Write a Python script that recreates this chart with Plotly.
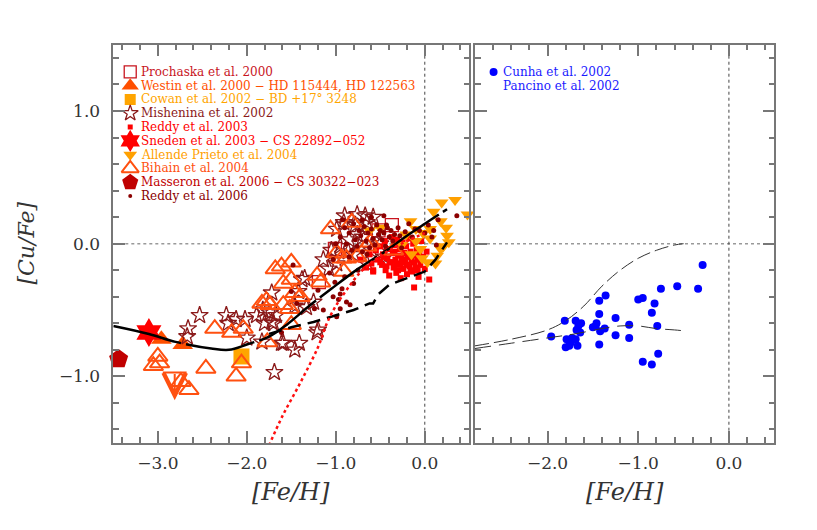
import plotly.graph_objects as go

FONT = "DejaVu Serif"

# --- Left panel: field and halo stars ---

PROCHASKA_X = [-1.01, -1.19, -0.37, -0.52]
PROCHASKA_Y = [-0.04, -0.29, 0.14, 0.10]

WESTIN_X = [-2.96, -2.72]
WESTIN_Y = [-0.72, -0.76]

COWAN_X = [-2.06]
COWAN_Y = [-0.85]

MISHENINA_X = [
    -2.53, -2.66, -2.67, -2.23, -2.21, -2.12, -2.02, -1.89, -2.00, -1.83,
    -1.80, -1.70, -1.74, -1.72, -1.67, -1.61, -1.46, -1.41, -1.21, -1.69,
    -1.38, -1.33, -1.25, -1.14, -0.99, -1.08, -1.46, -1.35, -1.42, -1.20,
    -1.59, -1.72, -1.82, -0.90, -0.76, -0.67, -0.58, -0.86, -0.76, -0.65,
    -0.91, -0.78, -0.65, -0.99, -0.85, -0.70, -0.55, -0.95, -0.80, -1.05,
    -0.60, -0.50, -0.45,
]
MISHENINA_Y = [
    -0.54, -0.64, -0.70, -0.54, -0.60, -0.57, -0.57, -0.54, -0.71, -0.74,
    -0.60, -0.60, -0.52, -0.37, -0.54, -0.75, -0.80, -0.75, -0.67, -0.97,
    -0.27, -0.48, -0.44, -0.12, -0.15, -0.19, -0.47, -0.26, -0.36, -0.65,
    -0.75, -0.59, -0.50, 0.21, 0.22, 0.21, 0.20, -0.06, 0.07, -0.15,
    0.16, 0.14, 0.16, 0.11, 0.03, 0.05, 0.08, -0.02, -0.08, -0.05,
    -0.05, 0.00, -0.10,
]

REDDY03_X = [
    -0.72, -0.66, -0.62, -0.60, -0.58, -0.55, -0.53, -0.50, -0.48, -0.47,
    -0.45, -0.44, -0.42, -0.41, -0.40, -0.38, -0.37, -0.36, -0.35, -0.34,
    -0.33, -0.32, -0.31, -0.30, -0.29, -0.28, -0.27, -0.26, -0.25, -0.24,
    -0.23, -0.22, -0.21, -0.20, -0.19, -0.18, -0.17, -0.16, -0.15, -0.14,
    -0.13, -0.12, -0.11, -0.10, -0.09, -0.08, -0.07, -0.06, -0.05, -0.04,
    -0.02, 0.00, 0.02, 0.05, -0.39, -0.58, -0.46, -0.30, -0.24, -0.34,
    -0.16, -0.50, -0.27, -0.08, -0.20, -0.43, -0.12, -0.32,
]
REDDY03_Y = [
    -0.12, -0.18, -0.08, -0.15, -0.21, -0.05, -0.12, -0.02, -0.16, -0.08,
    0.02, -0.20, -0.11, -0.04, -0.24, -0.14, 0.05, -0.07, -0.18, -0.01,
    -0.12, -0.22, 0.03, -0.09, -0.16, -0.04, -0.26, -0.11, 0.01, -0.19,
    -0.07, -0.14, -0.02, -0.23, -0.10, 0.04, -0.17, -0.06, -0.13, -0.21,
    0.00, -0.33, -0.09, -0.18, -0.04, -0.12, -0.25, -0.07, -0.16, 0.02,
    -0.10, -0.19, -0.06, -0.27, -0.14, -0.20, -0.10, -0.20, -0.12, -0.06,
    -0.20, -0.14, -0.15, -0.20, -0.16, -0.17, -0.14, -0.15,
]

SNEDEN_X = [-3.10]
SNEDEN_Y = [-0.67]

ALLENDE_X = [
    0.19, 0.34, 0.48, -0.16, -0.10, 0.18, 0.24, 0.25, 0.27, 0.06,
    -0.05, -0.03, 0.03, 0.12, 0.14, 0.18, -0.10, -0.21, -0.26, 0.06,
    -0.50, -0.62, 0.10, -0.02, 0.21, -0.15,
]
ALLENDE_Y = [
    0.31, 0.33, 0.22, 0.17, 0.11, 0.17, 0.12, 0.06, 0.01, 0.04,
    -0.04, -0.11, -0.14, -0.15, -0.09, -0.04, 0.02, 0.07, -0.01, 0.11,
    0.12, 0.10, 0.24, 0.08, -0.02, -0.08,
]

BIHAIN_X = [
    -3.00, -3.05, -2.98, -2.74, -2.65, -2.46, -2.36, -2.17, -2.04, -2.06,
    -2.12, -1.77, -1.83, -1.78, -1.74, -1.68, -1.50, -1.59, -1.50, -1.46,
    -1.59, -1.50, -1.61, -1.40, -1.52, -1.21, -1.17, -1.06, -0.82, -0.99,
    -0.93, -0.91, -0.76, -0.65, -0.61, -0.35, -0.88,
]
BIHAIN_Y = [
    -0.85, -0.92, -0.90, -1.04, -1.10, -0.94, -0.64, -0.67, -0.64, -0.90,
    -1.00, -0.74, -0.45, -0.43, -0.46, -0.19, -0.14, -0.30, -0.27, -0.37,
    -0.46, -0.61, -0.17, -0.40, -0.49, -0.24, -0.29, 0.11, 0.16, -0.07,
    -0.11, -0.21, -0.10, -0.02, 0.01, -0.05, -0.11,
]
# upper limit
BIHAIN_UL_X = [-2.81]
BIHAIN_UL_Y = [-0.97]

MASSERON_X = [-3.44]
MASSERON_Y = [-0.87]

REDDY06_X = [
    -1.61, -1.48, -1.50, -1.44, -1.24, -1.14, -0.99, -0.95, -0.93, -0.88,
    -0.84, -1.07, -1.01, -0.97, -1.03, -1.03, -0.46, 0.36, 0.08, 0.13,
    -0.11, -0.26, -0.43, -0.95, -1.20, -0.90, -0.80, -0.75,
    -0.95, -0.90, -0.88, -0.85, -0.82, -0.80, -0.78, -0.76, -0.74, -0.72,
    -0.70, -0.68, -0.66, -0.64, -0.62, -0.60, -0.58, -0.56, -0.54, -0.52,
    -0.50, -0.48, -0.46, -0.44, -0.42, -0.40, -0.38, -0.36, -0.34, -0.30,
    -0.28, -0.22, -0.18, -0.14, -0.06, 0.00, 0.04, 0.10, 0.15, -0.92,
    -0.70, -0.60, -0.85, -0.65, -1.00,
]
REDDY06_Y = [
    -0.67, -0.16, -0.36, -0.45, -0.49, -0.50, -0.55, -0.38, -0.34, -0.44,
    -0.46, -0.22, -0.29, -0.42, -0.40, -0.12, 0.21, 0.21, 0.05, -0.01,
    0.11, -0.03, 0.14, -0.49, -0.35, -0.25, -0.30, -0.20,
    0.05, 0.12, 0.00, 0.08, -0.05, 0.15, 0.03, -0.02, 0.10, 0.06,
    -0.06, 0.13, 0.02, 0.08, -0.03, 0.11, 0.04, -0.01, 0.14, 0.07,
    0.10, 0.03, 0.08, -0.02, 0.12, 0.05, 0.10, 0.02, 0.07, 0.12,
    0.06, 0.09, 0.15, 0.05, 0.10, 0.08, 0.14, 0.10, 0.18, 0.18,
    0.18, 0.20, -0.10, -0.08, 0.00,
]

# model curves, left panel
FIT_X = [-3.5, -3.1, -2.8, -2.4, -2.2, -2.0, -1.75, -1.55, -1.3, -1.05, -0.75, -0.45, -0.2, 0.0, 0.25]
FIT_Y = [-0.62, -0.68, -0.74, -0.79, -0.80, -0.76, -0.70, -0.61, -0.47, -0.34, -0.19, -0.06, 0.06, 0.15, 0.26]

DASH_X = [-1.75, -1.5, -1.25, -1.0, -0.8, -0.62, -0.58, -0.52, -0.4, -0.2, 0.0, 0.12, 0.25]
DASH_Y = [-0.68, -0.63, -0.59, -0.54, -0.50, -0.45, -0.45, -0.38, -0.31, -0.26, -0.21, -0.12, 0.01]

DOT_X = [-1.75, -1.6, -1.4, -1.2, -1.1, -1.0, -0.88, -0.73, -0.56, -0.4, -0.2, 0.0]
DOT_Y = [-1.52, -1.30, -1.05, -0.78, -0.60, -0.47, -0.35, -0.22, -0.12, -0.05, 0.02, 0.08]

# --- Right panel: Omega Centauri ---

CUNHA_X = [
    -1.96, -1.81, -1.80, -1.79, -1.75, -1.73, -1.69, -1.69, -1.67, -1.68,
    -1.66, -1.63, -1.64, -1.76, -1.47, -1.46, -1.43, -1.43, -1.42, -1.43,
    -1.36, -1.37, -1.25, -1.25, -1.10, -1.10, -1.00, -0.95, -0.82, -0.85,
    -0.79, -0.75, -0.57, -0.34, -0.29, -0.95, -0.85, -0.78, -1.50,
]
CUNHA_Y = [
    -0.70, -0.58, -0.78, -0.72, -0.75, -0.71, -0.72, -0.58, -0.77, -0.65,
    -0.62, -0.60, -0.67, -0.77, -0.62, -0.60, -0.43, -0.53, -0.66, -0.76,
    -0.39, -0.64, -0.56, -0.69, -0.61, -0.71, -0.42, -0.41, -0.45, -0.52,
    -0.62, -0.34, -0.32, -0.34, -0.16, -0.89, -0.91, -0.83, -0.63,
]

OMEGA_A_X = [-2.8, -2.4, -2.0, -1.8, -1.6, -1.4, -1.2, -1.0, -0.8, -0.6, -0.5]
OMEGA_A_Y = [-0.77, -0.72, -0.65, -0.58, -0.47, -0.32, -0.20, -0.11, -0.05, -0.01, 0.0]

OMEGA_B_X = [-2.8, -2.4, -2.0, -1.7, -1.4, -1.2, -1.0, -0.8, -0.6, -0.45]
OMEGA_B_Y = [-0.79, -0.75, -0.71, -0.68, -0.64, -0.62, -0.62, -0.64, -0.65, -0.66]

# label, x, y, symbol, size, colour, legend key size
SERIES = [
    ("Prochaska et al. 2000", PROCHASKA_X, PROCHASKA_Y, "square-open", 13, "#C8141E", 12),
    ("Westin et al. 2000 \u2212 HD 115444, HD 122563", WESTIN_X, WESTIN_Y, "triangle-up", 18, "#FF4F00", 15),
    ("Cowan et al. 2002 \u2212 BD +17\u00b0 3248", COWAN_X, COWAN_Y, "square", 16, "#FFA500", 11),
    ("Mishenina et al. 2002", MISHENINA_X, MISHENINA_Y, "star-open", 13, "#8B1A1A", 12),
    ("Reddy et al. 2003", REDDY03_X, REDDY03_Y, "square", 6, "#FF0000", 5),
    ("Sneden et al. 2003 \u2212 CS 22892\u2212052", SNEDEN_X, SNEDEN_Y, "hexagram", 22, "#FF0000", 17),
    ("Allende Prieto et al. 2004", ALLENDE_X, ALLENDE_Y, "triangle-down", 12, "#FFA000", 12),
    ("Bihain et al. 2004", BIHAIN_X, BIHAIN_Y, "triangle-up-open", 17, "#FF5010", 15),
    ("Masseron et al. 2006 \u2212 CS 30322\u2212023", MASSERON_X, MASSERON_Y, "pentagon", 20, "#C00000", 17),
    ("Reddy et al. 2006", REDDY06_X, REDDY06_Y, "circle", 5, "#8B0000", 4),
]

# the page body adds an 8px offset, domains compensate for it
LEFT_DOMAIN = [0.1289, 0.5646]
RIGHT_DOMAIN = [0.5716, 0.9379]
Y_DOMAIN = [0.1798, 0.9308]
LEGEND_ROW = 0.104


def marker_style(symbol: str, size: float, color: str) -> dict:
    if symbol.endswith("-open"):
        lw = 2 if symbol.startswith("triangle") else 1.3
        return dict(symbol=symbol, size=size, color=color, line=dict(color=color, width=lw))
    return dict(symbol=symbol, size=size, color=color, line=dict(width=0))


def build_figure() -> go.Figure:
    fig = go.Figure()

    for label, xs, ys, symbol, size, color, _ in SERIES:
        fig.add_trace(
            go.Scatter(
                x=xs, y=ys, mode="markers", name=label,
                marker=marker_style(symbol, size, color),
                cliponaxis=False, xaxis="x", yaxis="y",
            )
        )

    # Bihain upper limit: bar + arrow
    fig.add_trace(
        go.Scatter(
            x=BIHAIN_UL_X, y=BIHAIN_UL_Y, mode="markers",
            marker=dict(symbol="line-ew-open", size=17, color="#FF5010",
                        line=dict(color="#FF5010", width=2)),
            xaxis="x", yaxis="y",
        )
    )
    for ux, uy in zip(BIHAIN_UL_X, BIHAIN_UL_Y):
        fig.add_annotation(
            x=ux, y=uy - 0.21, ax=ux, ay=uy, axref="x", ayref="y",
            xref="x", yref="y", text="", showarrow=True,
            arrowhead=5, arrowsize=2.2, arrowwidth=2, arrowcolor="#FF5010",
        )

    # model curves
    fig.add_trace(go.Scatter(x=FIT_X, y=FIT_Y, mode="lines", line_shape="spline",
                             line=dict(color="black", width=2.5, dash="70px,5px"),
                             xaxis="x", yaxis="y"))
    fig.add_trace(go.Scatter(x=DASH_X, y=DASH_Y, mode="lines",
                             line=dict(color="black", width=2.5, dash="13px,7px"),
                             xaxis="x", yaxis="y"))
    fig.add_trace(go.Scatter(x=DOT_X, y=DOT_Y, mode="lines", line_shape="spline",
                             line=dict(color="#FF1010", width=2.5, dash="dot"),
                             xaxis="x", yaxis="y"))

    # right panel
    fig.add_trace(go.Scatter(x=CUNHA_X, y=CUNHA_Y, mode="markers",
                             marker=dict(symbol="circle", size=8, color="#0000FF"),
                             xaxis="x2", yaxis="y2"))
    fig.add_trace(go.Scatter(x=OMEGA_A_X, y=OMEGA_A_Y, mode="lines", line_shape="spline",
                             line=dict(color="#333", width=1, dash="14px,5px"),
                             xaxis="x2", yaxis="y2"))
    fig.add_trace(go.Scatter(x=OMEGA_B_X, y=OMEGA_B_Y, mode="lines", line_shape="spline",
                             line=dict(color="#333", width=1, dash="16px,8px"),
                             xaxis="x2", yaxis="y2"))

    # legend keys and labels (left panel)
    key_y = [1.295 - LEGEND_ROW * i for i in range(len(SERIES))]
    for (label, _, _, symbol, _, color, key_size), ky in zip(SERIES, key_y):
        fig.add_trace(go.Scatter(x=[-3.31], y=[ky], mode="markers",
                                 marker=marker_style(symbol, key_size, color),
                                 xaxis="x", yaxis="y"))
        fig.add_annotation(x=-3.2, y=ky, xref="x", yref="y", text=label,
                           showarrow=False, xanchor="left", yanchor="middle",
                           borderpad=0,
                           font=dict(family=FONT, size=12, color=color))

    # legend (right panel)
    fig.add_trace(go.Scatter(x=[-2.595], y=[1.295], mode="markers",
                             marker=dict(symbol="circle", size=8, color="#0000FF"),
                             xaxis="x2", yaxis="y2"))
    for i, label in enumerate(["Cunha et al. 2002", "Pancino et al. 2002"]):
        fig.add_annotation(x=-2.5, y=1.295 - LEGEND_ROW * i, xref="x2", yref="y2",
                           text=label, showarrow=False, xanchor="left",
                           yanchor="middle", borderpad=0,
                           font=dict(family=FONT, size=12, color="#1A1AFF"))

    # reference lines
    for xa, ya in (("x", "y"), ("x2", "y2")):
        fig.add_shape(type="line", xref=f"{xa} domain", yref=ya, x0=0, x1=1, y0=0, y1=0,
                      line=dict(color="#999", width=1.5, dash="dot"), layer="below")
        fig.add_shape(type="line", xref=xa, yref=f"{ya} domain", x0=0, x1=0, y0=0, y1=1,
                      line=dict(color="#444", width=1, dash="dot"), layer="below")

    axis_style = dict(
        showline=True, mirror="ticks", linecolor="#777", linewidth=1.5,
        ticks="inside", ticklen=12, tickwidth=1.5, tickcolor="#777",
        minor=dict(ticks="inside", ticklen=6, tickwidth=1.5, tickcolor="#777",
                   dtick=0.2, tick0=0),
        showgrid=False, zeroline=False, tickformat=".1f", dtick=1, tick0=0,
        tickfont=dict(family=FONT, size=17, color="#333"),
    )

    fig.update_layout(
        width=817, height=530,
        margin={"r": 0, "t": 0, "l": 0, "b": 0},
        paper_bgcolor="white", plot_bgcolor="white",
        showlegend=False,
        xaxis=dict(axis_style, domain=LEFT_DOMAIN, range=[-3.5, 0.5],
                   anchor="y", ticklabelstandoff=4),
        xaxis2=dict(axis_style, domain=RIGHT_DOMAIN, range=[-2.8, 0.5],
                    anchor="y2", ticklabelstandoff=4),
        yaxis=dict(axis_style, domain=Y_DOMAIN, range=[-1.5, 1.5],
                   anchor="x", ticklabelstandoff=8),
        yaxis2=dict(axis_style, domain=Y_DOMAIN, range=[-1.5, 1.5],
                    anchor="x2", showticklabels=False),
    )

    title_font = dict(family=FONT, size=24, color="#333")
    for xc in (0.3464, 0.7546):
        fig.add_annotation(x=xc, y=0.0874, xref="paper", yref="paper",
                           text="<i>[Fe/H]</i>", showarrow=False,
                           xanchor="center", yanchor="middle", font=title_font)
    fig.add_annotation(x=0.0215, y=0.5566, xref="paper", yref="paper",
                       text="<i>[Cu/Fe]</i>", showarrow=False, textangle=-90,
                       xanchor="center", yanchor="middle", borderpad=0,
                       font=dict(title_font, size=22))

    return fig


fig = build_figure()
fig.write_html("out.html")
